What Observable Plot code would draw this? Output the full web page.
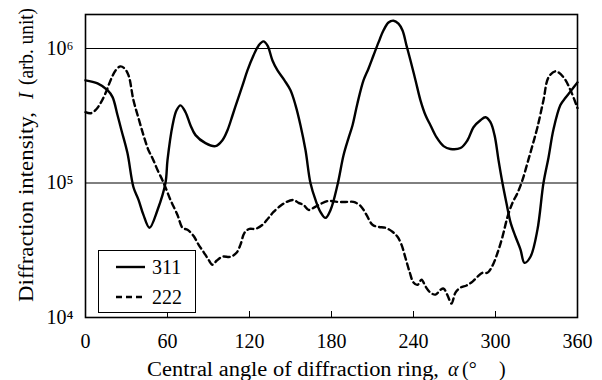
<!DOCTYPE html>
<html>
<head>
<meta charset="utf-8">
<script src="https://cdn.jsdelivr.net/npm/d3@7"></script>
<script src="https://cdn.jsdelivr.net/npm/@observablehq/plot@0.6"></script>
<style>
  html, body { margin: 0; padding: 0; background: #fff; }
  #chart { width: 602px; height: 380px; }
</style>
</head>
<body>
<div id="chart"></div>
<script>
// Diffraction intensity versus central angle of the diffraction ring, two reflections.
const series = ["311", "222"];

const angle311 = [0, 8.8, 16.1, 19.8, 23.4, 26.3, 30.7, 35.1, 38.8, 42.4, 46.8, 52.7, 58.5, 60, 63.7, 66.6, 69.5, 73.2, 76.8, 80.5, 87.8, 95.1, 100.2, 103.9, 107.6, 111.2, 114.9, 118.5, 122.9, 126.6, 130.2, 133.2, 136.8, 140.5, 145.6, 150, 153.7, 157.3, 161, 164.6, 168.3, 171.9, 175.6, 179.3, 184.4, 188.8, 192.4, 195.4, 199, 203.4, 207.1, 210.7, 214.4, 218, 221.7, 225.4, 229, 232, 234.9, 237.8, 241.5, 245.1, 248.8, 252.4, 256.8, 262, 267, 274.4, 279.5, 283.9, 289, 292.7, 296.3, 299.3, 302.2, 305.1, 308, 311, 314.6, 318.3, 321.2, 325.6, 330.7, 335.1, 338.8, 342.4, 347.5, 351.2, 354.9, 360];
const intensity311 = [5.8e5, 5.5e5, 4.9e5, 4.35e5, 3.2e5, 2.47e5, 1.67e5, 9.3e4, 7.5e4, 5.8e4, 4.65e4, 6.3e4, 1.0e5, 1.48e5, 2.69e5, 3.47e5, 3.78e5, 3.36e5, 2.69e5, 2.27e5, 1.98e5, 1.88e5, 2.08e5, 2.47e5, 3.19e5, 4.12e5, 5.32e5, 6.87e5, 8.87e5, 1.05e6, 1.13e6, 1.05e6, 8.15e5, 6.87e5, 5.79e5, 4.89e5, 3.78e5, 2.69e5, 1.75e5, 1.0e5, 7.48e4, 6.1e4, 5.5e4, 6.3e4, 9.7e4, 1.61e5, 2.15e5, 2.69e5, 3.92e5, 5.79e5, 7.11e5, 8.87e5, 1.11e6, 1.36e6, 1.56e6, 1.61e6, 1.53e6, 1.36e6, 1.05e6, 8.15e5, 5.79e5, 4.12e5, 3.19e5, 2.69e5, 2.19e5, 1.88e5, 1.79e5, 1.82e5, 2.08e5, 2.6e5, 2.93e5, 3.08e5, 2.83e5, 2.27e5, 1.48e5, 1.0e5, 7.1e4, 5.1e4, 4.0e4, 3.2e4, 2.55e4, 2.83e4, 4.5e4, 1.0e5, 1.55e5, 2.5e5, 3.8e5, 4.3e5, 4.8e5, 5.6e5];

const angle222 = [0, 3.7, 7.3, 11, 14.6, 18.3, 22, 25.6, 28.5, 31.5, 35.1, 38.8, 42.4, 46.1, 49, 52.7, 56.3, 58.5, 62.2, 67.3, 71, 74.6, 79, 82.7, 86.3, 90, 92.9, 95.9, 100.2, 106.1, 110.5, 113.4, 116.3, 120, 124.4, 129.5, 133.9, 137.6, 142.7, 147.1, 152.2, 155.9, 159.5, 163.2, 166.8, 172, 177.8, 184.4, 190.2, 196.1, 201.2, 205.6, 210, 214.4, 219.5, 224.6, 228.3, 231.2, 234.1, 237.1, 240, 242.9, 245.9, 248.8, 252.4, 256.1, 259.8, 262, 264.9, 267.8, 270.7, 274.4, 278.8, 283.2, 286.8, 290.5, 294.1, 297.8, 301.5, 305.1, 308.8, 312.4, 316.1, 319.7, 323.4, 327.1, 330.7, 335.1, 338.8, 343.9, 349.8, 354.9, 360];
const intensity222 = [3.36e5, 3.3e5, 3.48e5, 3.92e5, 4.64e5, 5.79e5, 6.87e5, 7.36e5, 7.11e5, 6.31e5, 4.12e5, 3.03e5, 2.27e5, 1.75e5, 1.53e5, 1.25e5, 1.05e5, 9.3e4, 7.48e4, 5.79e4, 4.64e4, 4.49e4, 4.05e4, 3.48e4, 3.08e4, 2.69e4, 2.47e4, 2.64e4, 2.83e4, 2.83e4, 3.03e4, 3.48e4, 4.26e4, 4.56e4, 4.56e4, 4.89e4, 5.5e4, 6.1e4, 6.77e4, 7.23e4, 7.48e4, 7.11e4, 6.87e4, 6.31e4, 6.53e4, 6.99e4, 7.36e4, 7.23e4, 7.23e4, 7.23e4, 6.77e4, 5.79e4, 4.89e4, 4.72e4, 4.64e4, 4.34e4, 3.98e4, 3.48e4, 2.78e4, 2.19e4, 1.82e4, 1.75e4, 1.91e4, 1.70e4, 1.53e4, 1.48e4, 1.61e4, 1.64e4, 1.46e4, 1.27e4, 1.53e4, 1.67e4, 1.73e4, 1.85e4, 2.01e4, 2.15e4, 2.15e4, 2.43e4, 3.03e4, 3.98e4, 5.6e4, 7.11e4, 8.43e4, 1.05e5, 1.41e5, 1.91e5, 2.6e5, 4.12e5, 6.1e5, 6.77e5, 6.1e5, 4.89e5, 3.6e5];

const xTicks = [0, 60, 120, 180, 240, 300, 360];
const yTicks = [1e4, 1e5, 1e6];
const yTickLabels = ["10⁴", "10⁵", "10⁶"];
const gridValues = [1e5, 1e6];

const rows = [
  ...angle311.map((a, i) => ({angle: a, intensity: intensity311[i], series: series[0]})),
  ...angle222.map((a, i) => ({angle: a, intensity: intensity222[i], series: series[1]}))
];

const serif = "'Liberation Serif', 'Times New Roman', 'DejaVu Serif', serif";

const chart = Plot.plot({
  width: 602,
  height: 380,
  marginLeft: 85,
  marginRight: 25,
  marginTop: 14,
  marginBottom: 63,
  style: {fontSize: "20px", background: "#fff", color: "#000", overflow: "visible"},
  x: {domain: [0, 360]},
  y: {type: "log", domain: [1e4, 1.79e6]},
  marks: [
    Plot.ruleY(gridValues, {stroke: "#000", strokeWidth: 1}),
    Plot.line(rows.filter(d => d.series === series[0]), {
      x: "angle", y: "intensity", stroke: "#000", strokeWidth: 2.4, curve: "catmull-rom"
    }),
    Plot.line(rows.filter(d => d.series === series[1]), {
      x: "angle", y: "intensity", stroke: "#000", strokeWidth: 2.4, strokeDasharray: "6,4", curve: "catmull-rom"
    }),
    Plot.frame({stroke: "#000", strokeWidth: 1.6}),
    Plot.axisX({ticks: xTicks, tickSize: -6, tickPadding: 22, label: null, fontSize: 20}),
    Plot.axisY({ticks: yTicks, tickSize: 0, tickPadding: 12, label: null, fontSize: 20,
      tickFormat: d => yTickLabels[yTicks.indexOf(d)]})
  ]
});

document.getElementById("chart").appendChild(chart);

// Axis titles with the italic symbols, and the boxed legend.
const svg = d3.select(chart);

const xt = svg.append("text")
  .attr("y", 376)
  .attr("text-anchor", "start")
  .attr("font-size", 20).attr("fill", "#000");
xt.append("tspan").attr("x", 147).attr("textLength", 292).attr("lengthAdjust", "spacingAndGlyphs")
  .text("Central angle of diffraction ring,");
xt.append("tspan").attr("x", 448).attr("font-style", "italic").text("α");
xt.append("tspan").attr("x", 462).text("(°");
xt.append("tspan").attr("x", 499).text(")");

const yt = svg.append("text")
  .attr("transform", "translate(33,302) rotate(-90)")
  .attr("text-anchor", "start")
  .attr("font-size", 20).attr("fill", "#000");
yt.append("tspan").attr("x", 0).attr("textLength", 190).attr("lengthAdjust", "spacingAndGlyphs")
  .text("Diffraction intensity,");
yt.append("tspan").attr("x", 203).attr("font-style", "italic").text("I");
yt.append("tspan").attr("x", 217).attr("textLength", 77).attr("lengthAdjust", "spacingAndGlyphs")
  .text("(arb. unit)");

const lg = svg.append("g");
lg.append("rect").attr("x", 98.5).attr("y", 250.5).attr("width", 97).attr("height", 62)
  .attr("fill", "#fff").attr("stroke", "#000").attr("stroke-width", 1);
const legendDash = [null, "6,4"];
series.forEach((s, i) => {
  const y = 267 + i * 30;
  lg.append("line").attr("x1", 116).attr("x2", 145).attr("y1", y).attr("y2", y)
    .attr("stroke", "#000").attr("stroke-width", 2.4)
    .attr("stroke-dasharray", legendDash[i]);
  lg.append("text").attr("x", 152).attr("y", y).attr("dy", "0.35em")
    .attr("text-anchor", "start")
    .attr("font-size", 20).attr("fill", "#000").text(s);
});

// Serif face on every label.
svg.selectAll("text").attr("font-family", serif).style("font-family", serif);
</script>
</body>
</html>
